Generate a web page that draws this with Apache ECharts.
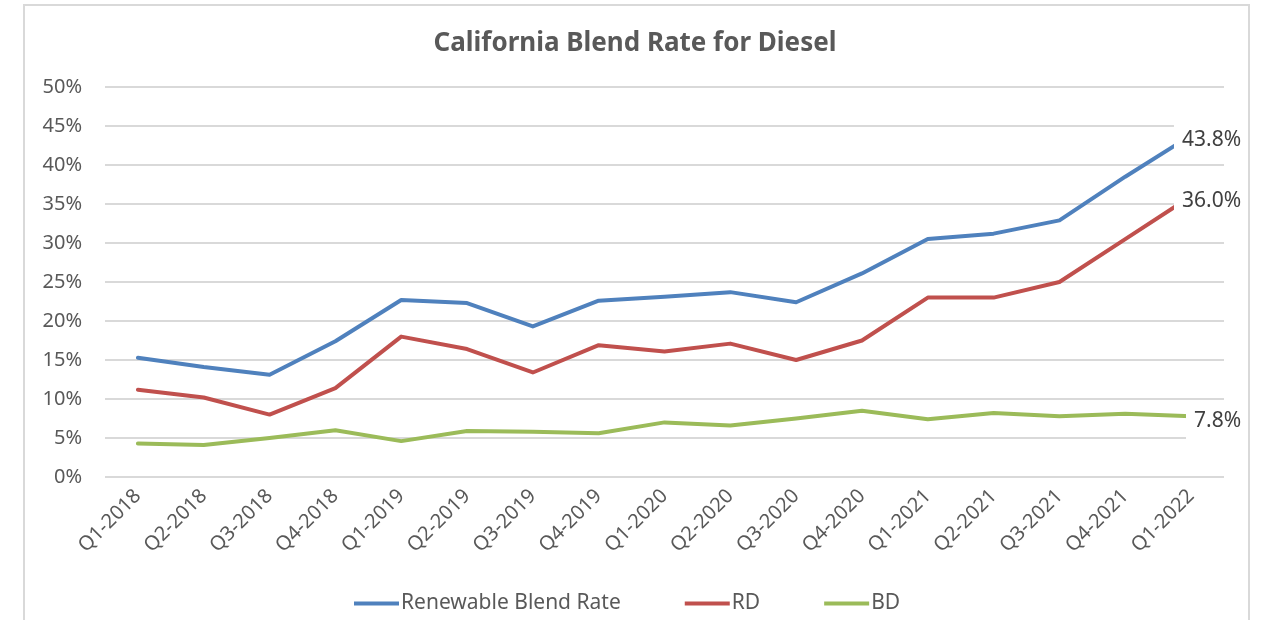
<!DOCTYPE html>
<html>
<head>
<meta charset="utf-8">
<script src="https://cdn.jsdelivr.net/npm/echarts@6/dist/echarts.min.js"></script>
<style>
  html, body { margin: 0; padding: 0; background: #fff; }
  #chart { width: 1270px; height: 620px; }
</style>
</head>
<body>
<div id="chart"></div>
<script>
// quarters on the x axis
var quarters = ['Q1-2018', 'Q2-2018', 'Q3-2018', 'Q4-2018', 'Q1-2019', 'Q2-2019', 'Q3-2019', 'Q4-2019',
	'Q1-2020', 'Q2-2020', 'Q3-2020', 'Q4-2020', 'Q1-2021', 'Q2-2021', 'Q3-2021', 'Q4-2021', 'Q1-2022'];

// blend rates in percent
var renewable = [15.3, 14.1, 13.1, 17.4, 22.7, 22.3, 19.3, 22.6, 23.1, 23.7, 22.4, 26.1, 30.5, 31.2, 32.9, 38.5, 43.8];
var rd = [11.2, 10.2, 8.0, 11.4, 18.0, 16.4, 13.4, 16.9, 16.1, 17.1, 15.0, 17.5, 23.0, 23.0, 25.0, 30.5, 36.0];
var bd = [4.3, 4.1, 5.0, 6.0, 4.6, 5.9, 5.8, 5.6, 7.0, 6.6, 7.5, 8.5, 7.4, 8.2, 7.8, 8.1, 7.8];

var seriesNames = ['Renewable Blend Rate', 'RD', 'BD'];
var yTicks = [0, 5, 10, 15, 20, 25, 30, 35, 40, 45, 50];

var colors = ['#4F81BD', '#C0504D', '#9BBB59'];
var font = 'Noto Sans';

function mkLine(name, data, color) {
	return {
		name: name,
		type: 'line',
		data: data,
		showSymbol: false,
		symbol: 'none',
		lineStyle: { color: color, width: 4, join: 'round', cap: 'round' },
		itemStyle: { color: color },
		// value label at the end of the line, white box hides the line tip
		endLabel: {
			show: true,
			formatter: function (p) { return p.value.toFixed(1) + '%'; },
			distance: 0,
			align: 'right',
			offset: [52, 5],
			padding: [11, 2, 5, 8],
			backgroundColor: '#fff',
			color: '#404040',
			fontFamily: font,
			fontSize: 21
		}
	};
}

var myChart = echarts.init(document.getElementById('chart'));
myChart.setOption({
	animation: false,
	title: {
		text: 'California Blend Rate for Diesel',
		left: 'center',
		top: 26,
		textStyle: { color: '#595959', fontFamily: font, fontSize: 26, fontWeight: 'bold' }
	},
	legend: {
		data: seriesNames,
		left: 349,
		top: 588,
		icon: 'rect',
		itemWidth: 45,
		itemHeight: 4,
		itemGap: 64,
		textStyle: { color: '#595959', fontFamily: font, fontSize: 21, padding: [0, 0, 0, -3] }
	},
	grid: { left: 105, right: 46, top: 87, bottom: 143 },
	xAxis: {
		type: 'category',
		data: quarters,
		axisLine: { show: false },
		axisTick: { show: false },
		axisLabel: { rotate: 45, margin: 16, color: '#595959', fontFamily: font, fontSize: 20, interval: 0 }
	},
	yAxis: {
		type: 'value',
		min: yTicks[0],
		max: yTicks[yTicks.length - 1],
		interval: 5,
		axisLine: { show: false },
		axisTick: { show: false },
		axisLabel: { margin: 23, color: '#595959', fontFamily: font, fontSize: 20, formatter: '{value}%' },
		splitLine: { lineStyle: { color: '#D9D9D9', width: 2 } }
	},
	graphic: [{
		type: 'rect',
		shape: { x: 24, y: 5, width: 1225, height: 700 },
		style: { fill: null, stroke: '#D9D9D9', lineWidth: 2 },
		silent: true
	}],
	series: [
		mkLine(seriesNames[0], renewable, colors[0]),
		mkLine(seriesNames[1], rd, colors[1]),
		mkLine(seriesNames[2], bd, colors[2])
	]
});
</script>
</body>
</html>
